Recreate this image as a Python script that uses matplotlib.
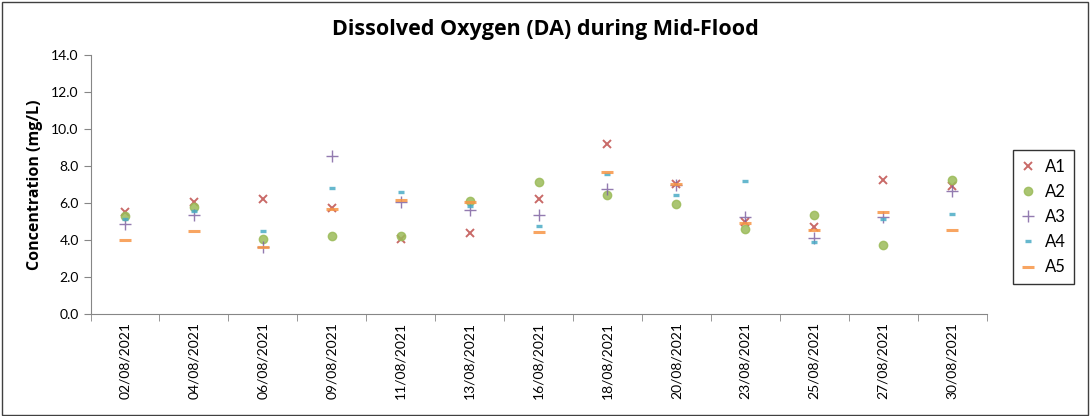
import matplotlib
matplotlib.use("Agg")
import matplotlib.pyplot as plt
from matplotlib.patches import Rectangle
import numpy as np

plt.rcParams["font.family"] = ["Lato", "DejaVu Sans"]

dates = ["02/08/2021", "04/08/2021", "06/08/2021", "09/08/2021", "11/08/2021",
         "13/08/2021", "16/08/2021", "18/08/2021", "20/08/2021", "23/08/2021",
         "25/08/2021", "27/08/2021", "30/08/2021"]
a1 = [5.53, 6.04, 6.23, 5.75, 4.04, 4.40, 6.20, 9.17, 7.03, 4.99, 4.72, 7.24, 6.92]
a2 = [5.30, 5.77, 4.04, 4.23, 4.20, 6.12, 7.15, 6.43, 5.95, 4.61, 5.37, 3.75, 7.24]
a3 = [4.86, 5.33, 3.60, 8.54, 6.07, 5.62, 5.35, 6.74, 6.98, 5.26, 4.11, 5.26, 6.65]
a4 = [5.12, 5.58, 4.49, 6.81, 6.59, 5.85, 4.77, 7.57, 6.45, 7.19, 3.91, 5.15, 5.39]
a5 = [4.00, 4.49, 3.64, 5.68, 6.16, 6.07, 4.45, 7.69, 7.03, 4.90, 4.52, 5.50, 4.54]

series = [
    ("A1", a1, "x", "#C0504D", 6, 1.4),
    ("A2", a2, "o", "#9BBB59", 6, 1.0),
    ("A3", a3, "+", "#8064A2", 8, 1.0),
    ("A4", a4, "_", "#4BACC6", 4, 2.4),
    ("A5", a5, "_", "#F79646", 9, 2.2),
]

fig = plt.figure(figsize=(10.91, 4.16), dpi=100)
ax = fig.add_axes([90.5 / 1091, 1 - 314 / 416, 896 / 1091, 259 / 416])

x = np.arange(len(dates))
for name, vals, mk, col, ms, mew in series:
    ax.plot(x, vals, ls="none", marker=mk, color=col, ms=ms, mew=mew,
            alpha=0.85, label=name)

ax.set_xlim(-0.5, len(dates) - 0.5)
ax.set_ylim(0, 14)
ax.set_yticks(np.arange(0, 14.1, 2))
ax.set_yticklabels([f"{v:.1f}" for v in np.arange(0, 14.1, 2)], fontsize=10)
ax.set_xticks(x)
ax.set_xticklabels(dates, rotation=90, fontsize=10)
ax.tick_params(axis="x", which="major", length=0, pad=6)
ax.set_xticks(np.arange(-0.5, len(dates), 1), minor=True)
ax.tick_params(axis="x", which="minor", length=5, color="#868686")
ax.tick_params(axis="y", length=5, color="#868686")
for s in ["top", "right"]:
    ax.spines[s].set_visible(False)
for s in ["left", "bottom"]:
    ax.spines[s].set_color("#868686")

ax.set_ylabel("Concentration (mg/L)", fontsize=11.5, fontweight="bold",
              family="Open Sans", labelpad=6)
fig.text(0.5, 1 - 30 / 416, "Dissolved Oxygen (DA) during Mid-Flood",
         ha="center", va="center", fontsize=15.5, fontweight="bold",
         family="Open Sans")

leg = ax.legend(loc="upper left", bbox_to_anchor=(1005 / 1091, 1 - 142 / 416),
                bbox_transform=fig.transFigure, frameon=True, fancybox=False,
                fontsize=12, handlelength=0.8, handletextpad=0.6,
                labelspacing=0.55, borderpad=0.5)
leg.get_frame().set_edgecolor("black")
leg.get_frame().set_linewidth(1.0)

fig.patches.append(Rectangle((0.002, 0.003), 0.995, 0.993, transform=fig.transFigure,
                             fill=False, edgecolor="#404040", lw=1.0))

fig.savefig("out.png", dpi=100)
